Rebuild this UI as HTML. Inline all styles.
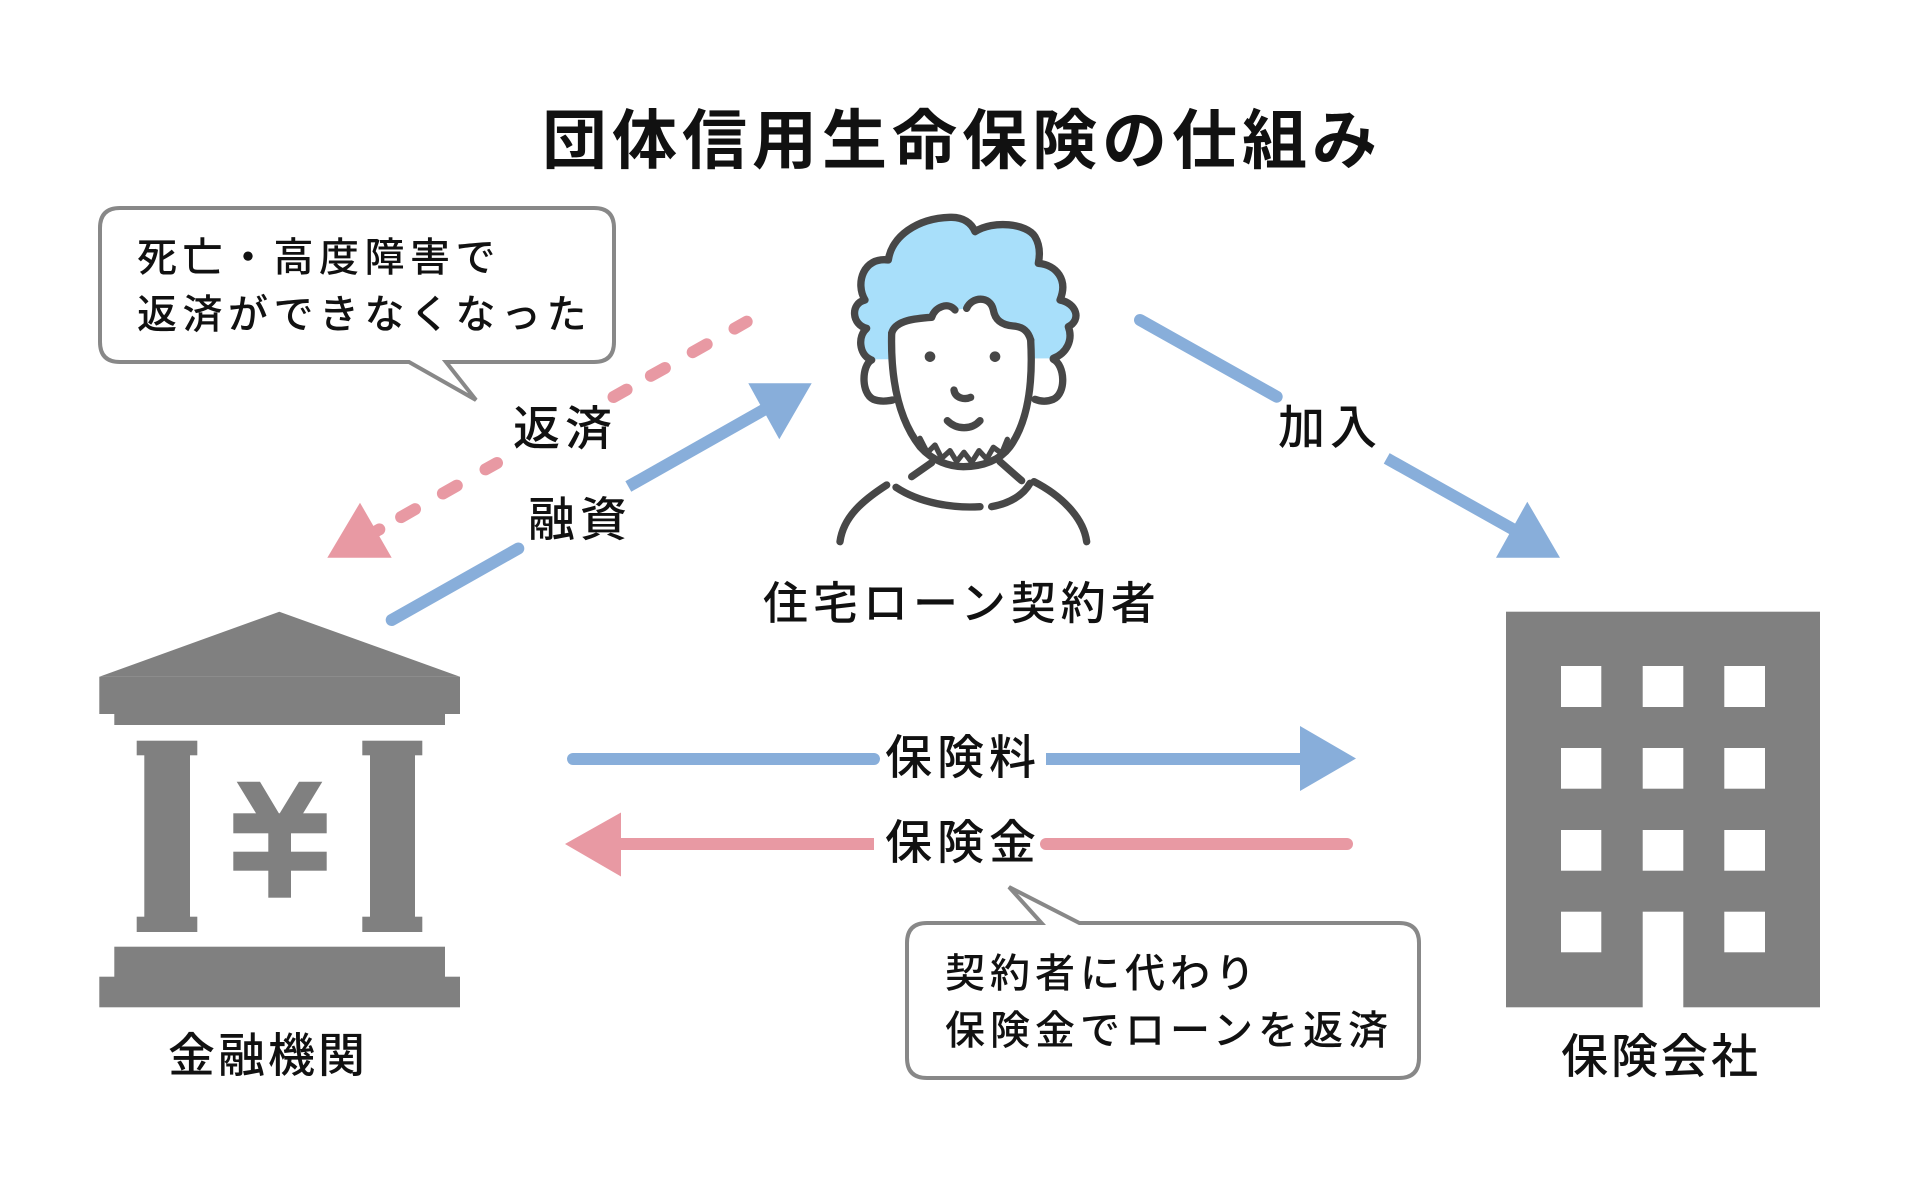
<!DOCTYPE html>
<html><head><meta charset="utf-8">
<style>
html,body{margin:0;padding:0;background:#fff;}
svg{display:block;}
text{font-family:"Liberation Sans","Noto Sans CJK JP",sans-serif;fill:#111;}
.t{font-size:65px;font-weight:700;letter-spacing:5px;}
.b{font-size:40px;font-weight:500;}
.l{font-size:47px;font-weight:500;}
</style></head>
<body>
<svg width="1920" height="1180" viewBox="0 0 1920 1180" xmlns="http://www.w3.org/2000/svg">
<rect width="1920" height="1180" fill="#fff"/>

<!-- Title -->
<text class="t" x="542" y="163">団体信用生命保険の仕組み</text>

<!-- Bubble 1 -->
<path d="M120,208 H594 Q614,208 614,228 V342 Q614,362 594,362 H446 L476,400 L409,362 H120 Q100,362 100,342 V228 Q100,208 120,208 Z" fill="#fff" stroke="#888" stroke-width="4" stroke-linejoin="miter"/>
<text class="b" x="137" y="271" style="letter-spacing:5.5px">死亡・高度障害で</text>
<text class="b" x="137" y="328" style="letter-spacing:5.5px">返済ができなくなった</text>

<!-- Bubble 2 -->
<path d="M927,923 H1041.5 L1009,887 L1079.4,923 H1399 Q1419,923 1419,943 V1058 Q1419,1078 1399,1078 H927 Q907,1078 907,1058 V943 Q907,923 927,923 Z" fill="#fff" stroke="#888" stroke-width="4"/>
<text class="b" x="945" y="987" style="letter-spacing:5px">契約者に代わり</text>
<text class="b" x="945" y="1044" style="letter-spacing:5px">保険金でローンを返済</text>

<!-- Pink dashed (返済) -->
<g stroke="#E899A3" stroke-width="12" stroke-linecap="round" fill="none">
  <line x1="746.7" y1="321.7" x2="734.5" y2="328.6"/>
  <line x1="706.7" y1="344.3" x2="692.7" y2="352.2"/>
  <line x1="664.9" y1="368.0" x2="650.9" y2="375.8"/>
  <line x1="626.6" y1="389.6" x2="613.5" y2="397.0"/>
  <line x1="497" y1="463" x2="485.5" y2="469.4"/>
  <line x1="456.8" y1="485.6" x2="442.9" y2="493.5"/>
  <line x1="415.0" y1="509.2" x2="401.1" y2="517.1"/>
  <line x1="379.3" y1="529.4" x2="363.7" y2="538.3"/>
</g>
<polygon points="360,502.7 327.3,557.7 391.7,557.7" fill="#E899A3"/>

<!-- Blue (融資) -->
<g stroke="#88AEDA" stroke-width="12" fill="none">
  <line x1="391.7" y1="620" x2="518.3" y2="548.5" stroke-linecap="round"/>
  <line x1="628.3" y1="486.5" x2="768" y2="407.5"/>
</g>
<polygon points="748.3,383.3 811.7,383.3 779.3,439.3" fill="#88AEDA"/>

<!-- Blue (加入) -->
<g stroke="#88AEDA" stroke-width="12" fill="none">
  <line x1="1140" y1="320" x2="1276.7" y2="396.7" stroke-linecap="round"/>
  <line x1="1386.7" y1="458.4" x2="1515" y2="530.4"/>
</g>
<polygon points="1527.3,501.7 1496,557.7 1560,557.7" fill="#88AEDA"/>

<text class="l" x="513" y="445" style="letter-spacing:5px">返済</text>
<text class="l" x="528" y="536" style="letter-spacing:5px">融資</text>
<text class="l" x="1278" y="444" style="letter-spacing:5px">加入</text>

<!-- Person -->
<g transform="translate(820,200) scale(0.33333)" stroke="#474747" stroke-width="22" stroke-linecap="round" stroke-linejoin="round">
  <path d="M150,478 C118,462 112,410 140,385 C95,375 90,310 135,300 C105,250 130,170 205,180 C215,110 290,55 390,52 C430,50 455,70 465,95 C520,60 620,70 645,110 C660,135 660,165 655,190 C710,195 745,240 720,300 C770,310 785,360 745,380 C760,420 740,460 700,475" fill="#A8DFFA"/>
  <!-- face fill -->
  <path d="M215,400 C225,360 290,355 335,352 C345,320 385,305 405,330 L440,325 C455,290 510,285 520,330 C525,360 545,375 580,378 C610,380 625,395 632,420 C640,560 620,670 570,740 C540,780 490,800 430,800 C390,800 340,785 300,740 C230,650 212,520 215,400 Z" fill="#fff" stroke="none"/>
  <path d="M215,400 C225,360 290,355 335,352 C345,320 385,305 405,330" fill="none"/>
  <path d="M440,325 C455,290 510,285 520,330 C525,360 545,375 580,378 C610,380 625,395 632,420" fill="none"/>
  <path d="M215,400 C212,520 230,650 300,740 C340,785 390,800 430,800 C490,800 540,780 570,740 C620,670 640,560 632,420" fill="none"/>
  <!-- ears -->
  <path d="M155,480 C125,495 122,580 160,598 C180,606 200,604 218,600" fill="#fff"/>
  <path d="M700,478 C735,495 740,580 700,598 C680,606 660,604 645,598" fill="#fff"/>
  <!-- eyes -->
  <circle cx="330" cy="470" r="16" fill="#474747" stroke="none"/>
  <circle cx="525" cy="470" r="16" fill="#474747" stroke="none"/>
  <!-- nose & smile -->
  <path d="M402,570 C405,595 435,600 452,592" fill="none"/>
  <path d="M382,662 C410,690 455,690 480,662" fill="none"/>
  <!-- beard -->
  <path d="M300,715 L322,758 L345,735 L365,775 L390,752 L410,785 L432,757 L455,787 L477,752 L500,777 L520,742 L545,760 L562,718" fill="none" stroke-width="16"/>
  <!-- neck -->
  <path d="M335,788 L275,830" fill="none"/>
  <path d="M540,785 L605,842" fill="none"/>
  <!-- shoulders & collar -->
  <path d="M200,855 C130,900 70,950 60,1025" fill="none"/>
  <path d="M228,862 C300,910 400,925 480,920" fill="none"/>
  <path d="M515,920 C570,910 610,885 630,850" fill="none"/>
  <path d="M642,845 C720,885 790,950 800,1025" fill="none"/>
</g>
<text class="l" x="763" y="619" style="font-size:45px;letter-spacing:5px">住宅ローン契約者</text>

<!-- Horizontal arrows -->
<g stroke-width="12" fill="none">
  <line x1="573" y1="759" x2="874" y2="759" stroke="#88AEDA" stroke-linecap="round"/>
  <line x1="1046" y1="759" x2="1302" y2="759" stroke="#88AEDA"/>
  <line x1="619" y1="844" x2="874" y2="844" stroke="#E899A3"/>
  <line x1="1046" y1="844" x2="1347" y2="844" stroke="#E899A3" stroke-linecap="round"/>
</g>
<polygon points="1300,726 1300,791 1356,758.5" fill="#88AEDA"/>
<polygon points="565,844 621,812.5 621,876.5" fill="#E899A3"/>
<text class="l" x="885" y="774" style="letter-spacing:5px">保険料</text>
<text class="l" x="885" y="859" style="letter-spacing:5px">保険金</text>

<!-- Bank -->
<g fill="#808080">
  <polygon points="279.3,611.7 460,676.7 99.3,676.7"/>
  <rect x="99.3" y="676.7" width="360.7" height="37.3"/>
  <rect x="114.3" y="713" width="330.7" height="12"/>
  <rect x="136.7" y="740.7" width="60.6" height="14.6"/>
  <rect x="144.3" y="755" width="45.7" height="162"/>
  <rect x="136.7" y="916.7" width="60.6" height="15.3"/>
  <rect x="362.3" y="740.7" width="60" height="14.6"/>
  <rect x="370" y="755" width="45" height="162"/>
  <rect x="362.3" y="916.7" width="60" height="15.3"/>
  <rect x="114.3" y="946.7" width="330.7" height="31"/>
  <rect x="99.3" y="976.7" width="360.7" height="30.6"/>
  <!-- Yen -->
  <polygon points="236.7,781.7 260,781.7 279.3,814 299,781.7 322.3,781.7 291,833.3 268.3,833.3"/>
  <rect x="233.3" y="813.3" width="93.4" height="20"/>
  <rect x="233.3" y="851.7" width="93.4" height="19"/>
  <rect x="268.3" y="830" width="22.7" height="67.7"/>
</g>
<text class="l" x="168" y="1072" style="letter-spacing:3px">金融機関</text>

<!-- Building -->
<g>
  <rect x="1506" y="611.7" width="314" height="395.6" fill="#808080"/>
  <g fill="#fff">
    <rect x="1561" y="666" width="40.3" height="41"/>
    <rect x="1642.7" y="666" width="40.6" height="41"/>
    <rect x="1724.3" y="666" width="40.7" height="41"/>
    <rect x="1561" y="748" width="40.3" height="40.7"/>
    <rect x="1642.7" y="748" width="40.6" height="40.7"/>
    <rect x="1724.3" y="748" width="40.7" height="40.7"/>
    <rect x="1561" y="830" width="40.3" height="40.7"/>
    <rect x="1642.7" y="830" width="40.6" height="40.7"/>
    <rect x="1724.3" y="830" width="40.7" height="40.7"/>
    <rect x="1561" y="911.7" width="40.3" height="40.6"/>
    <rect x="1642.7" y="911.7" width="40.6" height="96"/>
    <rect x="1724.3" y="911.7" width="40.7" height="40.6"/>
  </g>
</g>
<text class="l" x="1561" y="1073" style="letter-spacing:3px">保険会社</text>
</svg>
</body></html>
